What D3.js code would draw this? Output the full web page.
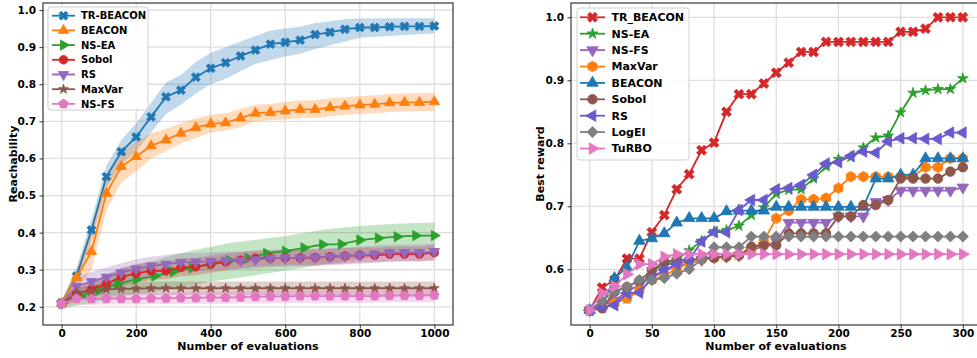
<!DOCTYPE html>
<html><head><meta charset="utf-8">
<script src="https://cdn.jsdelivr.net/npm/d3@7"></script>
<style>
body{margin:0;background:#fff;}
svg text{font-family:"DejaVu Sans",sans-serif;font-weight:bold;fill:#000;}
</style></head><body>
<svg id="c" width="977" height="358"></svg>
<script>
// ---------------- LEFT PANEL DATA ----------------
const evals40 = [0,40,80,120,160,200,240,280,320,360,400,440,480,520,560,600,640,680,720,760,800,840,880,920,960,1000];
const evals50 = [0,50,100,150,200,250,300,350,400,450,500,550,600,650,700,750,800,850,900,950,1000];

const trBeaconMean = [0.209,0.283,0.407,0.551,0.618,0.658,0.712,0.766,0.784,0.819,0.843,0.858,0.876,0.892,0.908,0.913,0.919,0.934,0.940,0.948,0.953,0.953,0.955,0.956,0.956,0.957];
const trBeaconLow  = [0.200,0.260,0.380,0.520,0.585,0.620,0.670,0.720,0.745,0.775,0.800,0.815,0.835,0.855,0.865,0.875,0.882,0.895,0.905,0.915,0.925,0.928,0.930,0.933,0.935,0.937];
const trBeaconHigh = [0.218,0.305,0.435,0.580,0.650,0.695,0.750,0.805,0.825,0.860,0.885,0.900,0.915,0.930,0.945,0.950,0.955,0.965,0.970,0.975,0.977,0.977,0.978,0.978,0.978,0.978];

const beaconMean = [0.209,0.279,0.349,0.506,0.578,0.605,0.634,0.650,0.668,0.683,0.693,0.696,0.709,0.722,0.724,0.728,0.732,0.732,0.737,0.741,0.744,0.746,0.750,0.751,0.751,0.753];
const beaconLow  = [0.200,0.245,0.300,0.460,0.535,0.565,0.600,0.620,0.640,0.655,0.670,0.675,0.685,0.700,0.703,0.705,0.708,0.710,0.713,0.718,0.720,0.722,0.725,0.726,0.727,0.728];
const beaconHigh = [0.218,0.300,0.420,0.555,0.615,0.645,0.668,0.680,0.695,0.708,0.718,0.722,0.733,0.745,0.747,0.752,0.756,0.757,0.762,0.765,0.768,0.770,0.774,0.775,0.776,0.778];

const nsEaMean = [0.209,0.228,0.245,0.262,0.274,0.283,0.295,0.305,0.316,0.325,0.331,0.344,0.350,0.359,0.368,0.369,0.380,0.385,0.389,0.392,0.392];
const nsEaLow  = [0.195,0.205,0.215,0.225,0.235,0.240,0.250,0.258,0.268,0.275,0.282,0.290,0.298,0.305,0.315,0.320,0.330,0.338,0.345,0.350,0.355];
const nsEaHigh = [0.222,0.250,0.275,0.300,0.315,0.325,0.340,0.352,0.362,0.372,0.378,0.385,0.390,0.400,0.408,0.413,0.418,0.421,0.424,0.426,0.427];

const sobolMean = [0.209,0.234,0.247,0.262,0.281,0.290,0.297,0.297,0.306,0.308,0.315,0.321,0.326,0.331,0.331,0.332,0.332,0.333,0.335,0.337,0.339,0.339,0.342,0.342,0.342,0.346];
const sobolLow  = [0.200,0.215,0.225,0.240,0.255,0.265,0.272,0.275,0.282,0.285,0.292,0.298,0.303,0.308,0.310,0.312,0.312,0.313,0.315,0.317,0.320,0.320,0.322,0.323,0.323,0.325];
const sobolHigh = [0.218,0.255,0.270,0.285,0.305,0.314,0.320,0.320,0.330,0.332,0.338,0.344,0.348,0.352,0.352,0.353,0.353,0.354,0.356,0.358,0.360,0.360,0.362,0.362,0.362,0.366];

const rsMean = [0.209,0.255,0.268,0.280,0.292,0.302,0.310,0.315,0.320,0.321,0.322,0.325,0.325,0.327,0.331,0.332,0.332,0.333,0.335,0.337,0.339,0.342,0.346,0.346,0.346,0.349];
const rsLow  = [0.200,0.230,0.242,0.255,0.266,0.276,0.284,0.289,0.294,0.296,0.298,0.301,0.302,0.304,0.307,0.308,0.309,0.310,0.312,0.314,0.316,0.319,0.322,0.323,0.323,0.326];
const rsHigh = [0.218,0.282,0.294,0.306,0.318,0.328,0.335,0.340,0.345,0.346,0.347,0.349,0.349,0.351,0.354,0.355,0.356,0.357,0.358,0.360,0.362,0.365,0.368,0.368,0.368,0.371];

const maxVarMean = [0.209,0.237,0.241,0.247,0.248,0.249,0.250,0.250,0.250,0.250,0.250,0.250,0.250,0.250,0.250,0.250,0.250,0.250,0.250,0.250,0.250,0.250,0.250,0.250,0.250,0.250];
const maxVarLow  = [0.200,0.222,0.226,0.230,0.231,0.232,0.232,0.232,0.232,0.232,0.232,0.232,0.232,0.232,0.232,0.232,0.232,0.232,0.232,0.232,0.232,0.232,0.232,0.232,0.232,0.232];
const maxVarHigh = [0.218,0.253,0.257,0.264,0.266,0.267,0.268,0.268,0.268,0.268,0.268,0.268,0.268,0.268,0.268,0.268,0.268,0.268,0.268,0.268,0.268,0.268,0.268,0.268,0.268,0.268];

const nsFsMean = [0.209,0.222,0.221,0.222,0.222,0.222,0.223,0.223,0.224,0.224,0.225,0.225,0.226,0.227,0.228,0.228,0.229,0.229,0.229,0.229,0.229,0.229,0.230,0.230,0.230,0.231];
const nsFsLow  = [0.200,0.206,0.205,0.206,0.206,0.206,0.207,0.207,0.207,0.208,0.208,0.208,0.209,0.209,0.210,0.210,0.211,0.211,0.211,0.211,0.211,0.211,0.212,0.212,0.212,0.213];
const nsFsHigh = [0.218,0.238,0.237,0.238,0.238,0.238,0.239,0.239,0.240,0.240,0.241,0.241,0.242,0.243,0.244,0.244,0.245,0.245,0.245,0.245,0.245,0.245,0.246,0.246,0.246,0.247];

const leftXTicks = [0,200,400,600,800,1000];
const leftYTicks = [0.2,0.3,0.4,0.5,0.6,0.7,0.8,0.9,1.0];

// ---------------- RIGHT PANEL DATA ----------------
const evals10 = [0,10,20,30,40,50,60,70,80,90,100,110,120,130,140,150,160,170,180,190,200,210,220,230,240,250,260,270,280,290,300];
const rTrBeacon = [0.535,0.571,0.583,0.617,0.617,0.659,0.686,0.727,0.751,0.789,0.801,0.850,0.878,0.878,0.895,0.912,0.928,0.945,0.945,0.961,0.961,0.961,0.961,0.961,0.961,0.977,0.977,0.982,1.000,1.000,1.000];
const rNsEa     = [0.535,0.545,0.548,0.553,0.568,0.600,0.605,0.615,0.630,0.645,0.660,0.662,0.669,0.686,0.698,0.720,0.726,0.727,0.744,0.763,0.775,0.778,0.793,0.809,0.812,0.849,0.880,0.884,0.886,0.886,0.903];
const rNsFs     = [0.535,0.545,0.550,0.565,0.575,0.588,0.598,0.605,0.610,0.615,0.620,0.620,0.622,0.630,0.637,0.644,0.674,0.674,0.674,0.674,0.684,0.684,0.684,0.707,0.710,0.725,0.725,0.725,0.725,0.725,0.730];
const rMaxVar   = [0.535,0.540,0.546,0.554,0.566,0.583,0.591,0.600,0.610,0.615,0.618,0.620,0.622,0.632,0.645,0.681,0.693,0.711,0.711,0.713,0.729,0.747,0.747,0.747,0.747,0.747,0.747,0.762,0.762,0.776,0.776];
const rBeacon   = [0.535,0.543,0.586,0.603,0.645,0.649,0.657,0.674,0.681,0.681,0.681,0.692,0.693,0.693,0.693,0.699,0.699,0.699,0.699,0.699,0.699,0.699,0.699,0.744,0.744,0.750,0.750,0.776,0.776,0.776,0.776];
const rSobol    = [0.535,0.538,0.564,0.572,0.582,0.598,0.612,0.615,0.615,0.617,0.618,0.620,0.622,0.636,0.638,0.638,0.657,0.657,0.657,0.657,0.684,0.684,0.702,0.702,0.710,0.744,0.744,0.744,0.744,0.755,0.762];
const rRs       = [0.535,0.540,0.543,0.562,0.563,0.586,0.599,0.608,0.615,0.644,0.659,0.659,0.694,0.710,0.710,0.727,0.729,0.734,0.750,0.768,0.770,0.780,0.787,0.785,0.803,0.808,0.808,0.807,0.807,0.817,0.817];
const rLogEi    = [0.535,0.550,0.565,0.572,0.583,0.583,0.586,0.593,0.600,0.615,0.635,0.635,0.635,0.652,0.652,0.652,0.652,0.652,0.652,0.652,0.652,0.652,0.652,0.652,0.652,0.652,0.652,0.652,0.652,0.652,0.652];
const rTurbo    = [0.535,0.562,0.573,0.592,0.608,0.608,0.620,0.624,0.624,0.624,0.624,0.624,0.624,0.624,0.624,0.624,0.624,0.624,0.624,0.624,0.624,0.624,0.624,0.624,0.624,0.624,0.624,0.624,0.624,0.624,0.624];

const rightXTicks = [0,50,100,150,200,250,300];
const rightYTicks = [0.6,0.7,0.8,0.9,1.0];

// ---------------- SYMBOLS ----------------
function polygon(n, areaFactor){
  return {draw(ctx,size){const r=Math.sqrt(size/areaFactor);for(let i=0;i<n;i++){const a=-Math.PI/2+i*2*Math.PI/n;const x=r*Math.cos(a),y=r*Math.sin(a);if(i)ctx.lineTo(x,y);else ctx.moveTo(x,y);}ctx.closePath();}};
}
const symPent = polygon(5, 2.378);
const symHex = polygon(6, 2.598);
const M = {
  X:{type:d3.symbolCross,rot:45,k:0.85},
  tri:{type:d3.symbolTriangle,rot:0,k:0.8},
  right:{type:d3.symbolTriangle,rot:90,k:0.8},
  down:{type:d3.symbolTriangle,rot:180,k:0.8},
  left:{type:d3.symbolTriangle,rot:-90,k:0.8},
  circle:{type:d3.symbolCircle,rot:0,k:1},
  star:{type:d3.symbolStar,rot:0,k:0.5},
  pent:{type:symPent,rot:0,k:1},
  hex:{type:symHex,rot:0,k:1},
  diamond:{type:d3.symbolSquare,rot:45,k:0.85}
};

const svg = d3.select("#c");

function drawMarkers(g, pts, spec, color, size){
  g.selectAll(null).data(pts).join("path")
    .attr("d", d3.symbol().type(spec.type).size(size*spec.k))
    .attr("transform", d=>`translate(${d[0]},${d[1]}) rotate(${spec.rot})`)
    .attr("fill", color).attr("stroke", color).attr("stroke-width", 0.8);
}

function axesFrame(g, x, y, xTicks, yTicks, xFmt, yFmt){
  const [x0,x1]=x.range(), [y0,y1]=y.range();
  const grid=g.append("g");
  xTicks.forEach(t=>grid.append("line").attr("x1",x(t)).attr("x2",x(t)).attr("y1",y0).attr("y2",y1).attr("stroke","#dedede").attr("stroke-width",1.3));
  yTicks.forEach(t=>grid.append("line").attr("x1",x0).attr("x2",x1).attr("y1",y(t)).attr("y2",y(t)).attr("stroke","#dedede").attr("stroke-width",1.3));
  const xa=g.append("g").attr("transform",`translate(0,${y0})`).call(d3.axisBottom(x).tickValues(xTicks).tickFormat(xFmt).tickSize(3.5).tickPadding(1.5));
  const ya=g.append("g").attr("transform",`translate(${x0},0)`).call(d3.axisLeft(y).tickValues(yTicks).tickFormat(yFmt).tickSize(3.5).tickPadding(3.5));
  [xa,ya].forEach(a=>{a.select(".domain").remove();a.selectAll("text").attr("font-size","10.5px").attr("font-family","DejaVu Sans").attr("font-weight","bold").attr("fill","#000");a.selectAll("line").attr("stroke","#000").attr("stroke-width",0.8);});
}

function border(g,x,y){
  const [x0,x1]=x.range(), [y0,y1]=y.range();
  g.append("rect").attr("x",x0).attr("y",y1).attr("width",x1-x0).attr("height",y0-y1).attr("fill","none").attr("stroke","#222").attr("stroke-width",1.1);
}

// ---------------- LEFT PANEL ----------------
const xL = d3.scaleLinear().domain([-50,1050]).range([43,453]);
const yL = d3.scaleLinear().domain([0.151,1.019]).range([325,3]);
const gL = svg.append("g");
axesFrame(gL,xL,yL,leftXTicks,leftYTicks,d3.format("d"),d3.format(".1f"));

const leftDefs = [
  {name:"TR-BEACON",x:evals40,m:trBeaconMean,lo:trBeaconLow,hi:trBeaconHigh,color:"#1f77b4",mk:M.X},
  {name:"BEACON",x:evals40,m:beaconMean,lo:beaconLow,hi:beaconHigh,color:"#ff7f0e",mk:M.tri},
  {name:"NS-EA",x:evals50,m:nsEaMean,lo:nsEaLow,hi:nsEaHigh,color:"#2ca02c",mk:M.right},
  {name:"Sobol",x:evals40,m:sobolMean,lo:sobolLow,hi:sobolHigh,color:"#d62728",mk:M.circle},
  {name:"RS",x:evals40,m:rsMean,lo:rsLow,hi:rsHigh,color:"#9467bd",mk:M.down},
  {name:"MaxVar",x:evals40,m:maxVarMean,lo:maxVarLow,hi:maxVarHigh,color:"#8c564b",mk:M.star},
  {name:"NS-FS",x:evals40,m:nsFsMean,lo:nsFsLow,hi:nsFsHigh,color:"#e377c2",mk:M.pent}
];
const LS=58;
leftDefs.forEach(s=>{
  const idx=s.x.map((_,i)=>i);
  gL.append("path").datum(idx).attr("d",d3.area().x(i=>xL(s.x[i])).y0(i=>yL(s.lo[i])).y1(i=>yL(s.hi[i])))
    .attr("fill",s.color).attr("fill-opacity",0.28);
});
leftDefs.forEach(s=>{
  const pts=s.x.map((v,i)=>[xL(v),yL(s.m[i])]);
  gL.append("path").datum(pts).attr("d",d3.line()).attr("fill","none").attr("stroke",s.color).attr("stroke-width",1.8);
  drawMarkers(gL,pts,s.mk,s.color,LS);
});
border(gL,xL,yL);
gL.append("text").attr("x",248).attr("y",350).attr("text-anchor","middle").attr("font-size","11px").text("Number of evaluations");
gL.append("text").attr("transform","translate(16.5,164) rotate(-90)").attr("text-anchor","middle").attr("font-size","11px").text("Reachability");

// left legend
const legL=svg.append("g");
legL.append("rect").attr("x",48).attr("y",7).attr("width",100).attr("height",103).attr("rx",3).attr("fill","#fff").attr("fill-opacity",0.85).attr("stroke","#d0d0d0").attr("stroke-width",1);
leftDefs.forEach((s,i)=>{
  const yy=15.7+i*14.7;
  legL.append("line").attr("x1",52).attr("x2",75).attr("y1",yy).attr("y2",yy).attr("stroke",s.color).attr("stroke-width",1.8);
  drawMarkers(legL,[[63.5,yy]],s.mk,s.color,LS);
  legL.append("text").attr("x",81).attr("y",yy).attr("dy","0.36em").attr("font-size","10px").text(s.name);
});

// ---------------- RIGHT PANEL ----------------
const xR = d3.scaleLinear().domain([-15,315]).range([571,981.5]);
const yR = d3.scaleLinear().domain([0.5116,1.0227]).range([325,3]);
const gR = svg.append("g");
axesFrame(gR,xR,yR,rightXTicks,rightYTicks,d3.format("d"),d3.format(".1f"));

const rightDefs = [
  {name:"TR_BEACON",v:rTrBeacon,color:"#d62728",mk:M.X},
  {name:"NS-EA",v:rNsEa,color:"#2ca02c",mk:M.star},
  {name:"NS-FS",v:rNsFs,color:"#9467bd",mk:M.down},
  {name:"MaxVar",v:rMaxVar,color:"#ff7f0e",mk:M.hex},
  {name:"BEACON",v:rBeacon,color:"#1f77b4",mk:M.tri},
  {name:"Sobol",v:rSobol,color:"#8c564b",mk:M.circle},
  {name:"RS",v:rRs,color:"#6a5acd",mk:M.left},
  {name:"LogEI",v:rLogEi,color:"#7f7f7f",mk:M.diamond},
  {name:"TuRBO",v:rTurbo,color:"#e377c2",mk:M.right}
];
const RSZ=72;
rightDefs.forEach(s=>{
  const pts=evals10.map((t,i)=>[xR(t),yR(s.v[i])]);
  gR.append("path").datum(pts).attr("d",d3.line()).attr("fill","none").attr("stroke",s.color).attr("stroke-width",1.8);
  drawMarkers(gR,pts,s.mk,s.color,RSZ);
});
border(gR,xR,yR);
gR.append("text").attr("x",776).attr("y",350).attr("text-anchor","middle").attr("font-size","11px").text("Number of evaluations");
gR.append("text").attr("transform","translate(544,164) rotate(-90)").attr("text-anchor","middle").attr("font-size","11px").text("Best reward");

const legR=svg.append("g");
legR.append("rect").attr("x",577).attr("y",8).attr("width",112).attr("height",152).attr("rx",3).attr("fill","#fff").attr("fill-opacity",0.85).attr("stroke","#d0d0d0").attr("stroke-width",1);
rightDefs.forEach((s,i)=>{
  const yy=17.3+i*16.4;
  legR.append("line").attr("x1",580).attr("x2",605).attr("y1",yy).attr("y2",yy).attr("stroke",s.color).attr("stroke-width",1.8);
  drawMarkers(legR,[[592.5,yy]],s.mk,s.color,RSZ);
  legR.append("text").attr("x",611.5).attr("y",yy).attr("dy","0.36em").attr("font-size","11px").text(s.name);
});
</script>
</body></html>
